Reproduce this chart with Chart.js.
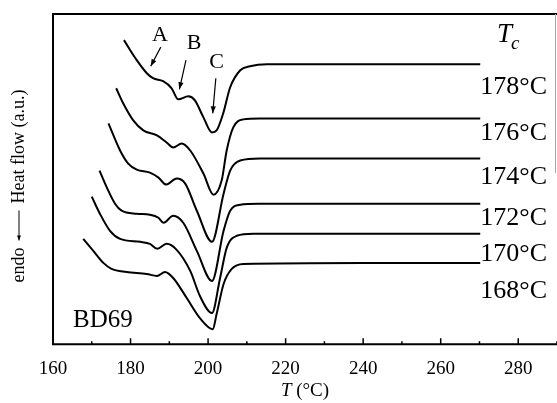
<!DOCTYPE html>
<html>
<head>
<meta charset="utf-8">
<script src="https://cdn.jsdelivr.net/npm/chart.js@4/dist/chart.umd.min.js"></script>
<style>
  html, body { margin: 0; padding: 0; background: #fff; }
  #wrap { width: 557px; height: 403px; position: relative; }
</style>
</head>
<body>
<div id="wrap"><canvas id="dsc"></canvas></div>
<script>
// crystallization temperatures (curve labels)
const tcLabels = ["178°C", "176°C", "174°C", "172°C", "170°C", "168°C"]

// temperatures and heat flow (a.u., offset curves)
const t178 = [178.3, 181.6, 184.2, 185.8, 188.4, 190.6, 192.3, 194.9, 196.6, 198.8, 201.0, 202.2, 203.9, 205.7, 208.3, 210.8, 215.2, 240, 270.2]
const h178 = [303, 283, 270, 265, 262, 255, 244, 247, 243, 226, 211, 213, 230, 256, 273, 277, 279, 279, 279]

const t176 = [176.3, 178.1, 180.7, 183.3, 186.8, 189.3, 191.0, 193.2, 195.4, 198.8, 201.4, 203.5, 204.8, 206.5, 209.1, 213.4, 240, 270.2]
const h176 = [255, 240, 223, 213, 208, 201, 196, 200, 193, 170, 149, 163, 193, 216, 224, 225, 225, 225]

const t174 = [174.3, 177.3, 179.4, 181.6, 185.0, 187.2, 189.2, 191.9, 194.1, 197.1, 201.0, 204.0, 205.7, 208.3, 213.4, 240, 270.2]
const h174 = [220, 193, 180, 174, 171, 166, 159, 165, 160, 133, 102, 150, 173, 183, 185, 185, 185]

const t172 = [172.0, 173.9, 176.0, 177.7, 181.6, 185.0, 187.2, 188.5, 191.0, 193.6, 197.1, 201.0, 204.0, 205.7, 208.3, 213.0, 240, 270.2]
const h172 = [173, 156, 140, 133, 130, 129, 126, 121, 128, 121, 93, 63, 113, 133, 139, 140, 140, 140]

const t170 = [170.0, 172.1, 174.7, 177.3, 182.5, 185.0, 186.9, 189.3, 191.9, 195.4, 197.9, 201.0, 203.1, 204.8, 207.4, 211.7, 240, 270.2]
const h170 = [147, 130, 113, 105, 102, 100, 95, 100, 94, 73, 48, 31, 66, 96, 108, 110, 110, 110]

const t168 = [167.8, 170.4, 173.0, 175.1, 179.0, 184.2, 186.8, 188.9, 191.0, 194.5, 197.9, 201.2, 202.2, 204.0, 206.1, 209.1, 240, 270.2]
const h168 = [105, 93, 81, 75, 72, 70, 68, 72, 66, 46, 26, 15, 30, 60, 75, 80, 81, 81]

const xTicks = [160, 180, 200, 220, 240, 260, 280]
const xMinorTicks = [170, 190, 210, 230, 250, 270, 290]

// where the Tc labels sit (heat-flow units) and the peak annotations
const tcLabelLevels = [256, 210, 166, 126, 90, 53]
const peakNames = ["A", "B", "C"]
const peakText = [[187.6, 308], [196.4, 300], [202.2, 281]]
const peakArrowFrom = [[187.8, 296], [194.3, 283], [202.0, 265]]
const peakArrowTo = [[185.2, 277], [192.6, 254], [201.2, 230]]

const serif = "'Liberation Serif', 'DejaVu Serif', serif"

function toPoints(ts, hs) {
    return ts.map((t, i) => ({x: t, y: hs[i]}))
}

const curves = [[t178, h178], [t176, h176], [t174, h174], [t172, h172], [t170, h170], [t168, h168]]

function arrow(ctx, x1, y1, x2, y2, len, w) {
    ctx.beginPath()
    ctx.moveTo(x1, y1)
    ctx.lineTo(x2, y2)
    ctx.stroke()
    const a = Math.atan2(y2 - y1, x2 - x1)
    ctx.beginPath()
    ctx.moveTo(x2, y2)
    ctx.lineTo(x2 - len * Math.cos(a) + w * Math.sin(a), y2 - len * Math.sin(a) - w * Math.cos(a))
    ctx.lineTo(x2 - len * Math.cos(a) - w * Math.sin(a), y2 - len * Math.sin(a) + w * Math.cos(a))
    ctx.closePath()
    ctx.fill()
}

const decorations = {
    id: "decorations",
    afterDraw(chart) {
        const ctx = chart.ctx
        const area = chart.chartArea
        const xs = chart.scales.x
        const ys = chart.scales.y
        ctx.save()
        ctx.strokeStyle = "#000"
        ctx.fillStyle = "#000"

        // frame
        ctx.lineWidth = 2
        ctx.beginPath()
        ctx.moveTo(557, area.top)
        ctx.lineTo(area.left, area.top)
        ctx.lineTo(area.left, area.bottom)
        ctx.lineTo(557, area.bottom)
        ctx.stroke()
        ctx.lineWidth = 1
        ctx.strokeStyle = "#aaa"
        ctx.beginPath()
        ctx.moveTo(555.5, area.top)
        ctx.lineTo(555.5, 173)
        ctx.stroke()
        ctx.strokeStyle = "#000"

        // inward tick marks
        ctx.lineWidth = 1.5
        xTicks.forEach((v) => {
            const px = xs.getPixelForValue(v)
            ctx.beginPath()
            ctx.moveTo(px, area.bottom)
            ctx.lineTo(px, area.bottom - 6)
            ctx.stroke()
        })
        xMinorTicks.forEach((v) => {
            const px = xs.getPixelForValue(v)
            ctx.beginPath()
            ctx.moveTo(px, area.bottom)
            ctx.lineTo(px, area.bottom - 3)
            ctx.stroke()
        })

        // peak annotations
        ctx.font = "22px " + serif
        ctx.textAlign = "center"
        ctx.textBaseline = "middle"
        ctx.lineWidth = 1.2
        peakNames.forEach((name, i) => {
            ctx.fillText(name, xs.getPixelForValue(peakText[i][0]), ys.getPixelForValue(peakText[i][1]))
            arrow(ctx,
                xs.getPixelForValue(peakArrowFrom[i][0]), ys.getPixelForValue(peakArrowFrom[i][1]),
                xs.getPixelForValue(peakArrowTo[i][0]), ys.getPixelForValue(peakArrowTo[i][1]), 7, 2.6)
        })

        // Tc labels
        ctx.font = "26px " + serif
        ctx.textAlign = "right"
        tcLabels.forEach((lab, i) => {
            ctx.fillText(lab, 547, ys.getPixelForValue(tcLabelLevels[i]))
        })
        ctx.font = "italic 27px " + serif
        ctx.textAlign = "left"
        ctx.fillText("T", 497, 35)
        ctx.font = "italic 19px " + serif
        ctx.fillText("c", 511, 44)

        // sample name
        ctx.font = "25px " + serif
        ctx.textAlign = "left"
        ctx.textBaseline = "alphabetic"
        ctx.fillText("BD69", 73, 327)

        // x title: T (°C)
        ctx.textBaseline = "middle"
        const rest = " (°C)"
        ctx.font = "19px " + serif
        const wRest = ctx.measureText(rest).width
        ctx.font = "italic 19px " + serif
        const wT = ctx.measureText("T").width
        const cx = 305
        ctx.fillText("T", cx - (wT + wRest) / 2, 391)
        ctx.font = "19px " + serif
        ctx.fillText(rest, cx - (wT + wRest) / 2 + wT, 391)

        // y title: endo <-- Heat flow (a.u.)
        ctx.translate(19, 186)
        ctx.rotate(-Math.PI / 2)
        ctx.font = "18px " + serif
        ctx.textAlign = "left"
        const wEndo = ctx.measureText("endo").width
        const wHeat = ctx.measureText("Heat flow (a.u.)").width
        const arrowLen = 30, gap = 7
        const total = wEndo + gap + arrowLen + gap + wHeat
        let pos = -total / 2
        ctx.fillText("endo", pos, 0)
        pos += wEndo + gap
        ctx.lineWidth = 1
        arrow(ctx, pos + arrowLen, 0, pos, 0, 5, 2)
        pos += arrowLen + gap
        ctx.fillText("Heat flow (a.u.)", pos, 0)
        ctx.restore()
    }
}

new Chart(document.getElementById("dsc"), {
    type: "scatter",
    data: {
        datasets: curves.map((c, i) => ({
            label: tcLabels[i],
            data: toPoints(c[0], c[1]),
            showLine: true,
            borderColor: "#000",
            borderWidth: 2,
            pointRadius: 0,
            cubicInterpolationMode: "monotone",
            fill: false
        }))
    },
    options: {
        responsive: true,
        maintainAspectRatio: false,
        animation: false,
        layout: {
            padding: {left: 53, top: 14, right: 0, bottom: 10}
        },
        plugins: {
            legend: {display: false},
            tooltip: {enabled: false}
        },
        scales: {
            x: {
                type: "linear",
                min: 160,
                max: 290,
                afterBuildTicks: (scale) => {
                    scale.ticks = xTicks.map((v) => ({value: v}))
                },
                grid: {display: false, drawTicks: false},
                border: {display: false},
                ticks: {
                    color: "#000",
                    padding: 13,
                    maxRotation: 0,
                    font: {family: serif, size: 19}
                }
            },
            y: {
                type: "linear",
                display: false,
                min: 0,
                max: 329
            }
        }
    },
    plugins: [decorations]
})
</script>
</body>
</html>
